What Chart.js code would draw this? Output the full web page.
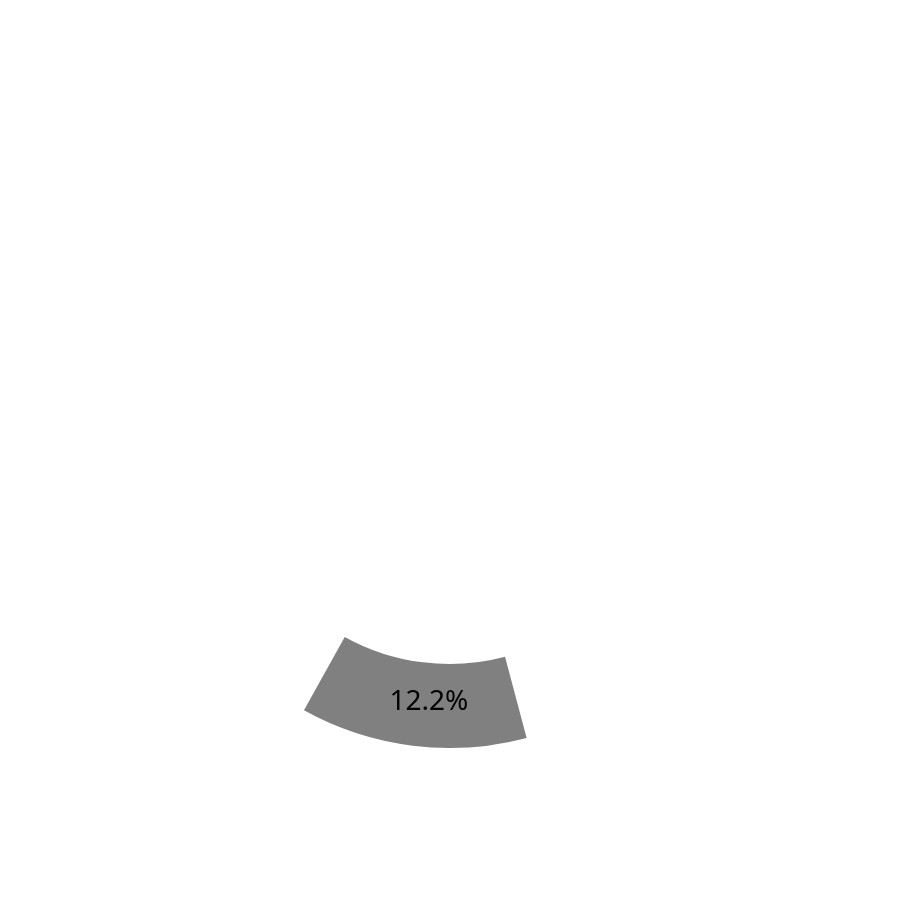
<!DOCTYPE html>
<html>
<head>
<meta charset="utf-8">
<script src="https://cdn.jsdelivr.net/npm/chart.js@4.4.1/dist/chart.umd.min.js"></script>
<style>
  html, body { margin: 0; padding: 0; background: #ffffff; }
  #wrap { width: 900px; height: 900px; }
</style>
</head>
<body>
<div id="wrap"><canvas id="c" width="900" height="900"></canvas></div>
<script>
const categories = ["Share", "Rest"];
const values = [12.2, 87.8];
const labelsText = ["12.2%", ""];
const colors = ["#808080", "rgba(255,255,255,0)"];

const labelPlugin = {
  id: 'sliceLabels',
  afterDatasetsDraw(chart) {
    const ctx = chart.ctx;
    const meta = chart.getDatasetMeta(0);
    meta.data.forEach((arc, i) => {
      const t = labelsText[i];
      if (!t) return;
      const p = arc.tooltipPosition();
      ctx.save();
      ctx.font = '400 28px "Noto Sans", "Noto Sans CJK JP", sans-serif';
      ctx.fillStyle = '#000000';
      ctx.textAlign = 'center';
      ctx.textBaseline = 'middle';
      ctx.fillText(t, p.x + 11, p.y - 2);
      ctx.restore();
    });
  }
};

new Chart(document.getElementById('c'), {
  type: 'doughnut',
  data: {
    labels: categories,
    datasets: [{
      data: values,
      backgroundColor: colors,
      borderWidth: 0
    }]
  },
  options: {
    responsive: false,
    animation: false,
    rotation: 165.1,
    radius: 300,
    cutout: '72%',
    layout: { padding: { right: 1, bottom: 4 } },
    plugins: {
      legend: { display: false },
      tooltip: { enabled: false }
    }
  },
  plugins: [labelPlugin]
});
</script>
</body>
</html>
